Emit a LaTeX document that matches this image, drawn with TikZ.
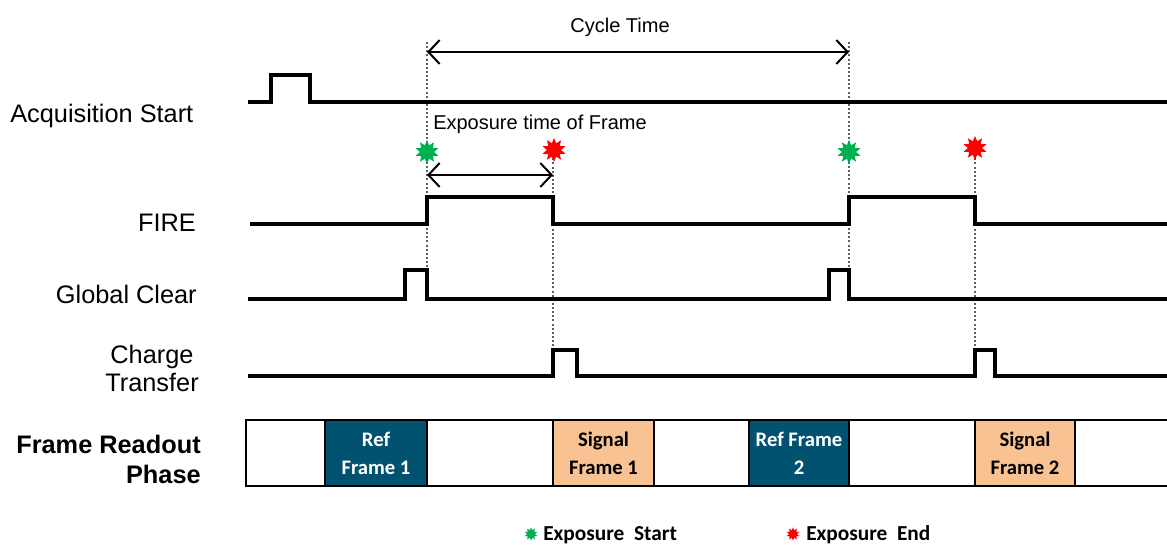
\documentclass[tikz,border=0pt]{standalone}
\usepackage{fontspec}
\setmainfont{Liberation Sans}
\newfontfamily\cellfont{Carlito}
\usetikzlibrary{shapes.geometric,arrows.meta}
\definecolor{refblue}{RGB}{0,82,112}
\definecolor{sigpeach}{RGB}{249,194,146}
\definecolor{dotgray}{RGB}{95,95,95}
\definecolor{startgreen}{RGB}{0,176,80}
\definecolor{endred}{RGB}{255,0,0}

\begin{document}
\begin{tikzpicture}[
  x=0.75pt, y=-0.75pt,
  wave/.style={line width=2.4pt, line join=miter},
  guideline/.style={dotgray, line width=1.6pt, dash pattern=on 1.5pt off 1.6pt},
  span/.style={line width=1.5pt,
               {Straight Barb[length=8.5pt,width=18pt]}-{Straight Barb[length=8.5pt,width=18pt]}},
  siglabel/.style={font=\fontsize{19}{21}\selectfont, inner sep=0pt},
  notelabel/.style={font=\fontsize{15}{17}\selectfont, inner sep=0pt},
  blankcell/.style={draw, line width=1.8pt, fill=white, minimum height=49.5pt,
                    inner sep=0pt, outer sep=0pt, align=center},
  refcell/.style={blankcell, fill=refblue, text=white,
                  font=\cellfont\bfseries\fontsize{15.5}{21}\selectfont},
  sigcell/.style={blankcell, fill=sigpeach, text=black,
                  font=\cellfont\bfseries\fontsize{15.5}{21}\selectfont},
  startstar/.style={star, star points=10, star point ratio=1.7, fill=startgreen,
                    minimum size=18pt, inner sep=0pt},
  endstar/.style={startstar, fill=endred},
  legendtext/.style={font=\cellfont\bfseries\fontsize{16}{19}\selectfont,
                     inner sep=0pt, anchor=base west}
]
  \useasboundingbox (0,0) rectangle (1167,545);

  % signal names
  \node[siglabel, anchor=base west] (acq) at (10,123) {Acquisition Start};
  \node[siglabel, anchor=base east] (fire) at (196,232) {FIRE};
  \node[siglabel, anchor=base east] (gclr) at (197,304) {Global Clear};
  \node[siglabel, align=center] (ctr) at (152,368) {Charge\\Transfer};
  \node[siglabel, align=right, anchor=east, font=\bfseries\fontsize{19}{22.5}\selectfont]
        (frp) at (201,459) {Frame Readout\\Phase};

  % event times
  \coordinate (cyc1) at (427,52);
  \coordinate (cyc2) at (849,52);
  \coordinate (exp1) at (427,175);
  \coordinate (exp2) at (553,175);

  \foreach \x/\top/\bot in {427/42/270, 553/150/350, 849/42/270, 975/150/350} {
    \draw[guideline] (\x,\top) -- (\x,\bot);
  }

  % waveforms
  \draw[wave] (248,102) -- (271,102) -- (271,75) -- (310,75) -- (310,102) -- (1167,102);
  \draw[wave] (250,224) -- (427,224) -- (427,197) -- (553,197) -- (553,224)
              -- (849,224) -- (849,197) -- (975,197) -- (975,224) -- (1167,224);
  \draw[wave] (248,299) -- (405,299) -- (405,270) -- (427,270) -- (427,299)
              -- (829,299) -- (829,270) -- (849,270) -- (849,299) -- (1167,299);
  \draw[wave] (248,376) -- (553,376) -- (553,350) -- (577,350) -- (577,376)
              -- (975,376) -- (975,350) -- (995,350) -- (995,376) -- (1167,376);

  % spans
  \draw[span] (cyc1) -- (cyc2);
  \node[notelabel, anchor=base] (cyct) at (620,33) {Cycle Time};
  \draw[span] (exp1) -- (exp2);
  \node[notelabel, anchor=base west] (expt) at (433,130) {Exposure time of Frame};

  % exposure markers
  \node[startstar] (s1) at (427,152) {};
  \node[endstar]   (e1) at (554,150) {};
  \node[startstar] (s2) at (849,152) {};
  \node[endstar]   (e2) at (975,148) {};

  % readout phase
  \foreach \a/\b/\kind/\txt [count=\i] in {
      246/325/blankcell/{}, 325/427/refcell/{Ref\\Frame 1},
      427/553/blankcell/{}, 553/654/sigcell/{Signal\\Frame 1},
      654/749/blankcell/{}, 749/849/refcell/{Ref Frame\\2},
      849/975/blankcell/{}, 975/1075/sigcell/{Signal\\Frame 2},
      1075/1172/blankcell/{}} {
    \node[\kind, minimum width={(\b-\a)*0.75pt}] (cell\i) at ({(\a+\b)/2},453) {\txt};
  }

  % legend
  \node[startstar, minimum size=10pt] (ls) at (531,534) {};
  \node[legendtext] (lst) at (543,540) {Exposure\ \ Start};
  \node[endstar, minimum size=10pt] (le) at (793,534) {};
  \node[legendtext] (let) at (806,540) {Exposure\ \ End};
\end{tikzpicture}
\end{document}
